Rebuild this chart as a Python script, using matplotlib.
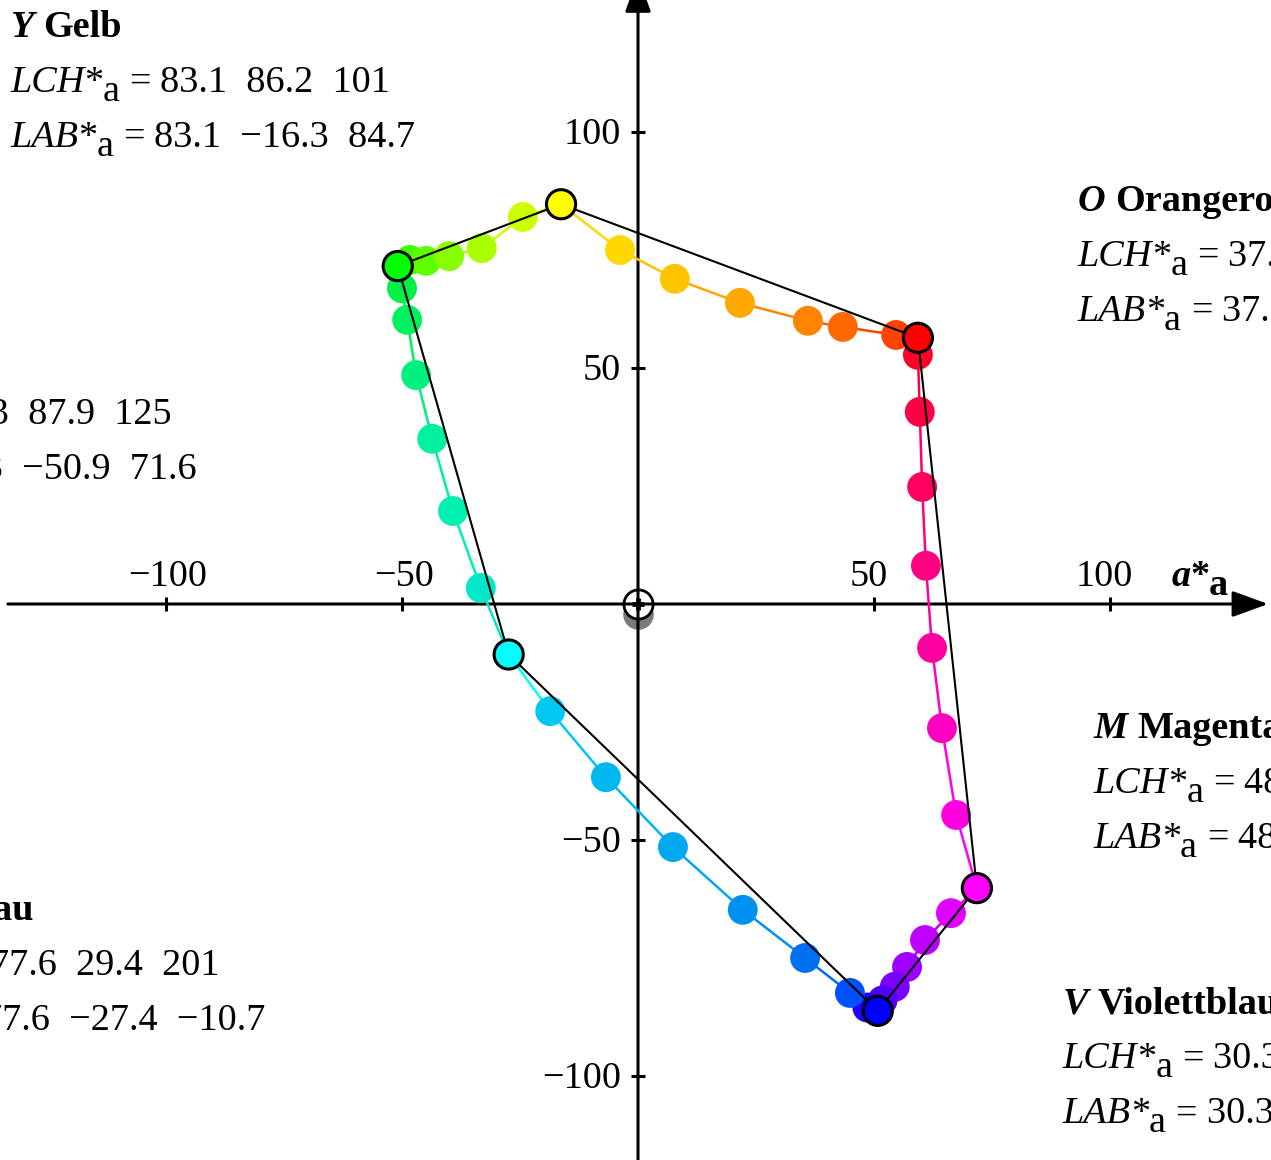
import matplotlib
matplotlib.use("Agg")
import matplotlib.pyplot as plt
from matplotlib import transforms
from matplotlib.collections import LineCollection

plt.rcParams['font.family'] = 'Liberation Serif'

# hue circle samples (a*, b*) going Y -> O -> M -> V -> C -> G -> Y
a_star = [-16.3, -3.8, 7.8, 21.6, 36.0, 43.4, 54.7, 59.3,
          59.3, 59.7, 60.2, 61.0, 62.3, 64.4, 67.4, 71.8,
          66.3, 60.8, 57.0, 54.4, 51.8, 48.6, 50.8,
          44.9, 35.4, 22.2, 7.4, -6.8, -18.6, -27.4,
          -33.3, -39.2, -43.6, -47.0, -48.9, -50.0, -50.9,
          -48.3, -44.9, -40.0, -33.1, -24.4]
b_star = [84.7, 75.0, 68.9, 63.8, 60.0, 58.7, 57.0, 56.4,
          52.8, 40.7, 24.8, 8.1, -9.3, -26.3, -44.7, -60.2,
          -65.5, -71.2, -76.9, -81.1, -84.0, -85.5, -86.2,
          -82.4, -75.0, -64.8, -51.5, -36.7, -22.7, -10.7,
          3.4, 19.7, 35.0, 48.5, 60.2, 66.9, 71.6,
          72.9, 72.7, 73.7, 75.4, 82.0]
point_colors = ['#ffff00', '#ffd800', '#ffc400', '#ffa800', '#ff8400', '#ff6a00', '#ff4400', '#ff0000',
                '#ff0028', '#ff0044', '#ff0060', '#ff0080', '#ff00a0', '#ff00c0', '#ff00e0', '#ff00ff',
                '#e000ff', '#c000ff', '#a000ff', '#7a00ff', '#5000ff', '#2000ff', '#0000ff',
                '#0050ff', '#0070f0', '#0090f0', '#00a8f0', '#00b8f0', '#00c8f0', '#00ffff',
                '#00e8c8', '#00f0b0', '#00f0a0', '#00f080', '#00f060', '#00f048', '#00ff00',
                '#40ff00', '#60ff00', '#88ff00', '#aaff00', '#ccff00']

# device corners
corner_a = [-16.3, 59.3, 71.8, 50.8, -27.4, -50.9]
corner_b = [84.7, 56.4, -60.2, -86.2, -10.7, 71.6]
corner_colors = ['#ffff00', '#ff0000', '#ff00ff', '#0000ff', '#00ffff', '#00ff00']

x_ticks = [-100, -50, 50, 100]
y_ticks = [100, 50, -50, -100]

# text blocks: letter, name, LCH values, LAB values, anchor (a*, b* of title baseline)
block_letters = ['Y', 'O', 'G', 'M', 'C', 'V']
block_names = ['Gelb', 'Orangerot', 'Grün', 'Magenta', 'Cyanblau', 'Violettblau']
block_lch = ['83.1  86.2  101', '37.8  81.6  44', '52.3  87.9  125',
             '48.4  93.7  320', '77.6  29.4  201', '30.3  100  300']
block_lab = ['83.1  \u221216.3  84.7', '37.8  59.3  56.4', '52.3  \u221250.9  71.6',
             '48.4  71.8  \u221260.2', '77.6  \u221227.4  \u221210.7', '30.3  50.8  \u221286.2']
block_x = [-133.0, 93.2, -179.2, 96.6, -169.2, 90.0]
block_y = [120.1, 83.3, 49.8, -28.4, -66.9, -86.7]

FS = 27.5
LINE = 11.65

fig = plt.figure(figsize=(12.71, 11.60), dpi=100)
ax = fig.add_axes([0, 0, 1, 1])
ax.set_xlim(-135.17, 134.11)
ax.set_ylim(-117.80, 127.97)
ax.axis('off')
renderer = fig.canvas.get_renderer()


def text_width(s, **kw):
    t = ax.text(0, 0, s, fontsize=FS, **kw)
    w = t.get_window_extent(renderer).width
    t.remove()
    return w


SPACE = text_width('x x') - text_width('xx')


def draw_pieces(x, y, pieces):
    dx = 0.0
    for s, kw, drop, gap in pieces:
        dx += gap
        tr = transforms.offset_copy(ax.transData, fig=fig, x=dx, y=-drop, units='dots')
        t = ax.text(x, y, s, transform=tr, fontsize=FS, va='baseline', ha='left',
                    clip_on=False, **kw)
        dx += t.get_window_extent(renderer).width


ital = dict(style='italic')
bold = dict(weight='bold')
bital = dict(weight='bold', style='italic')

for letter, name, lch, lab, x0, y0 in zip(block_letters, block_names, block_lch,
                                           block_lab, block_x, block_y):
    draw_pieces(x0, y0, [(letter, bital, 0, 0), (name, bold, 0, SPACE)])
    for i, (head, vals) in enumerate([('LCH', lch), ('LAB', lab)]):
        draw_pieces(x0, y0 - LINE * (i + 1),
                    [(head, ital, 0, 0), ('*', {}, 0, 0), ('a', {}, 9, -1),
                     ('=', {}, 0, SPACE), (vals, {}, 0, SPACE)])

# axes with arrows
arrow = dict(arrowstyle='-|>,head_length=0.55,head_width=0.2', mutation_scale=40,
             lw=2.2, color='k', shrinkA=0, shrinkB=0)
ax.annotate('', xy=(133.5, 0), xytext=(-133.5, 0), arrowprops=arrow, zorder=2,
            annotation_clip=False)
ax.annotate('', xy=(0, 133.0), xytext=(0, -125), arrowprops=arrow, zorder=2,
            annotation_clip=False)
ax.plot(x_ticks, [0] * len(x_ticks), ls='none', marker='|', ms=10, mew=2.2, color='k', zorder=2)
ax.plot([0] * len(y_ticks), y_ticks, ls='none', marker='_', ms=10, mew=2.2, color='k', zorder=2)

for v in x_ticks:
    ax.text(v + (0.4 if v < 0 else -1.2), 3.8, str(v).replace('-', '\u2212'), fontsize=FS,
            ha='center', va='baseline')
for v in y_ticks:
    ax.text(-3.6, v - 0.6, str(v).replace('-', '\u2212'), fontsize=FS,
            ha='right', va='center')

draw_pieces(113.0, 3.8, [('a', bital, 0, 0), ('*', bold, 0, 0), ('a', bold, 9, -1)])

# origin marker with shadow
ax.plot(0, -2.1, 'o', ms=22, color='#7a7a7a', mec='none', zorder=1.5)
ax.plot(0, 0, 'o', ms=21, mfc='white', mec='k', mew=2, zorder=1.6)
ax.plot(0, 0, '+', ms=9, mew=3.5, color='k', zorder=2.1)

# colored hue path
pts = list(zip(a_star, b_star))
segs = [[pts[i], pts[(i + 1) % len(pts)]] for i in range(len(pts))]
seg_colors = [point_colors[(i + 1) % len(pts)] for i in range(len(pts))]
ax.add_collection(LineCollection(segs, colors=seg_colors, linewidths=1.8, zorder=3))
ax.scatter(a_star, b_star, s=21.5 ** 2, c=point_colors, edgecolors='none', zorder=3.5)

# device gamut hexagon
ax.plot(corner_a + corner_a[:1], corner_b + corner_b[:1], color='k', lw=1.5, zorder=4)
ax.scatter(corner_a, corner_b, s=21 ** 2, c=corner_colors, edgecolors='k',
           linewidths=2.2, zorder=5)

fig.savefig('out.png', dpi=100)
